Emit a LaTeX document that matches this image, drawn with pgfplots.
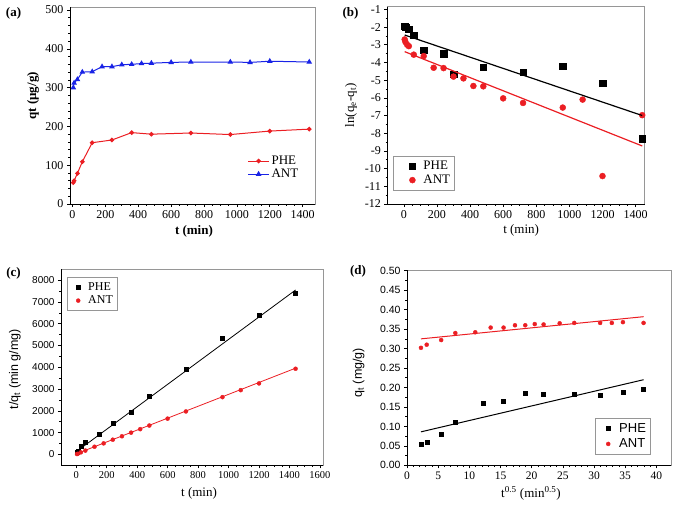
\documentclass[border=0pt]{standalone}
\usepackage{fontspec}
\setmainfont{Liberation Serif}
\setsansfont{Liberation Sans}
\usepackage{pgfplots}
\pgfplotsset{compat=1.18}
\definecolor{myred}{RGB}{235,30,35}
\definecolor{myblue}{RGB}{25,35,230}
\definecolor{frame}{RGB}{150,150,150}
\newcommand{\fs}[1]{\fontsize{#1}{#1}\selectfont}
\pgfplotsset{
  panel/.style={
    scale only axis,
    axis line style={frame, line width=0.7pt},
    tick style={black, line width=0.6pt},
    major tick length=3pt,
    minor tick length=1.8pt,
    tick align=outside,
    xtick pos=left, ytick pos=left,
    /pgf/number format/assume math mode=true,
    /pgf/number format/1000 sep={},
    legend cell align=left,
    clip mode=individual,
  },
}
\begin{document}
\begin{tikzpicture}
\path[use as bounding box] (0pt,0pt) rectangle (676pt,-512pt);

% ---------------- (a)
\begin{axis}[panel, name=pa,
  at={(70pt,-7.3pt)}, anchor=north west,
  width=245pt, height=196.7pt,
  xmin=-15, xmax=1475, ymin=0, ymax=507,
  xtick={0,200,...,1400}, minor x tick num=3,
  ytick={0,100,...,500}, minor y tick num=4,
  tick label style={font=\fs{12}},
  xlabel={\bfseries t (min)}, ylabel={\bfseries qt (μg/g)},
  xlabel style={font=\fs{13}, at={(axis description cs:0.506,-0.137)}, anchor=center},
  ylabel style={font=\fs{13}, at={(axis description cs:-0.151,0.55)}, anchor=center},
  legend style={draw=none, fill=none, font=\fs{13}, at={(0.72,0.26)}, anchor=north west, inner sep=1pt, row sep=-1pt},
  legend image code/.code={\draw[mark repeat=2,mark phase=2] plot coordinates {(0pt,0pt) (10.5pt,0pt) (21pt,0pt)};},
]
\addplot[myred, line width=1pt, mark=*, mark size=1.8pt] coordinates {
(5,55)(10,60)(30,79)(60,109)(120,158)(240,165)(360,184)(480,180)(720,183)(960,179)(1200,188)(1440,193)};
\addlegendentry{PHE}
\addplot[myblue, line width=1pt, mark=triangle*, mark size=2.3pt] coordinates {
(5,300)(10,312)(30,321)(60,340)(120,341)(180,354)(240,354)(300,359)(360,360)(420,362)(480,363)(600,365)(720,366)(960,366)(1080,365)(1200,368)(1440,366)};
\addlegendentry{ANT}
\end{axis}
\draw[black, line width=0.7pt] (pa.north west) -- (pa.south west) -- (pa.south east);

% ---------------- (b)
\begin{axis}[panel, name=pb,
  at={(387.3pt,-6.7pt)}, anchor=north west,
  width=257.4pt, height=197.3pt,
  xmin=-100, xmax=1455, ymin=-12, ymax=-0.85,
  xtick={0,200,...,1400}, minor x tick num=3,
  ytick={-12,-11,...,-1}, minor y tick num=1,
  tick label style={font=\fs{12}},
  xlabel={t (min)}, ylabel={ln(q\textsubscript{e}-q\textsubscript{t})},
  xlabel style={font=\fs{13}, at={(axis description cs:0.52,-0.132)}, anchor=center},
  ylabel style={font=\fs{13}, at={(axis description cs:-0.141,0.5)}, anchor=center},
  legend style={draw=frame, fill=white, font=\fs{13}, at={(0.023,0.244)}, anchor=north west, inner xsep=2pt, inner ysep=3pt, row sep=0pt},
  legend image code/.code={\path[draw=none,fill=none] (0pt,-3pt) (26pt,3pt); \draw plot coordinates {(17pt,0pt)};},
]
\addplot[only marks, black, mark=square*, mark size=3.2pt] coordinates {
(5,-1.95)(10,-2.0)(30,-2.13)(60,-2.45)(120,-3.3)(240,-3.5)(300,-4.65)(480,-4.28)(720,-4.55)(960,-4.2)(1200,-5.18)(1440,-8.3)};
\addlegendentry{PHE}
\addplot[only marks, myred, mark=*, mark size=3pt] coordinates {
(5,-2.7)(10,-2.85)(20,-3.0)(30,-3.08)(60,-3.56)(120,-3.64)(180,-4.3)(240,-4.32)(300,-4.8)(360,-4.9)(420,-5.33)(480,-5.35)(600,-6.03)(720,-6.29)(960,-6.55)(1080,-6.1)(1200,-10.42)(1440,-6.98)};
\addlegendentry{ANT}
\addplot[black, line width=1.2pt, forget plot] coordinates {(5,-2.45)(1440,-7.0)};
\addplot[myred, line width=1.2pt, forget plot] coordinates {(5,-3.39)(1440,-8.72)};
\end{axis}
\draw[black, line width=0.7pt] (pb.north west) -- (pb.south west) -- (pb.south east);

% ---------------- (c)
\begin{axis}[panel, name=pc,
  at={(61pt,-269.3pt)}, anchor=north west,
  width=262pt, height=196pt,
  xmin=-100, xmax=1620, ymin=-500, ymax=8500,
  xtick={0,200,...,1600}, minor x tick num=3,
  ytick={0,1000,...,8000}, minor y tick num=1,
  xticklabel style={font=\fs{10.5}},
  yticklabel style={font=\sffamily\fs{10}},
  xlabel={t (min)}, ylabel={t/q\textsubscript{t} (min g/mg)},
  xlabel style={font=\fs{13}, at={(axis description cs:0.527,-0.141)}, anchor=center},
  ylabel style={font=\sffamily\fs{12.5}, at={(axis description cs:-0.176,0.49)}, anchor=center},
  legend style={draw=frame, fill=white, font=\fs{12}, at={(0.023,0.959)}, anchor=north west, inner xsep=2pt, inner ysep=3pt, row sep=0pt},
  legend image code/.code={\path[draw=none,fill=none] (0pt,-3pt) (17pt,3pt); \draw plot coordinates {(9pt,0pt)};},
]
\addplot[only marks, black, mark=square*, mark size=2pt] coordinates {
(5,91)(10,167)(30,375)(60,545)(150,937)(240,1455)(360,1946)(480,2667)(720,3934)(960,5333)(1200,6383)(1440,7420)};
\addlegendentry{PHE}
\addplot[only marks, myred, mark=*, mark size=2pt] coordinates {
(5,17)(10,32)(30,94)(60,176)(120,353)(180,507)(240,676)(300,833)(360,1000)(420,1160)(480,1326)(600,1644)(720,1973)(960,2630)(1080,2951)(1200,3261)(1440,3934)};
\addlegendentry{ANT}
\addplot[black, line width=0.8pt, forget plot] coordinates {(5,150)(1440,7550)};
\addplot[myred, line width=0.8pt, forget plot] coordinates {(5,40)(1440,3960)};
\end{axis}
\draw[black, line width=0.7pt] (pc.north west) -- (pc.south west) -- (pc.south east);

% ---------------- (d)
\begin{axis}[panel, name=pd,
  at={(407pt,-270pt)}, anchor=north west,
  width=264.3pt, height=195.3pt,
  xmin=0, xmax=42.4, ymin=0, ymax=0.502,
  xtick={0,5,...,40}, minor x tick num=4,
  ytick={0,0.05,0.1,0.15,0.2,0.25,0.3,0.35,0.4,0.45,0.5}, minor y tick num=1,
  yticklabel style={font=\sffamily\fs{10.5}, /pgf/number format/.cd, fixed, fixed zerofill, precision=2},
  xticklabel style={font=\fs{11.5}},
  xlabel={t\textsuperscript{0.5} (min\textsuperscript{0.5})}, ylabel={q\textsubscript{t} (mg/g)},
  xlabel style={font=\fs{13}, at={(axis description cs:0.469,-0.143)}, anchor=center},
  ylabel style={font=\sffamily\fs{12.5}, at={(axis description cs:-0.183,0.474)}, anchor=center},
  legend style={draw=frame, fill=white, font=\sffamily\fs{13}, at={(0.92,0.056)}, anchor=south east, inner xsep=2pt, inner ysep=3pt, row sep=1pt},
  legend image code/.code={\path[draw=none,fill=none] (0pt,-3pt) (20pt,3pt); \draw plot coordinates {(11pt,0pt)};},
]
\addplot[only marks, black, mark=square*, mark size=2pt] coordinates {
(2.24,0.055)(3.16,0.06)(5.48,0.08)(7.75,0.112)(12.25,0.16)(15.49,0.165)(18.97,0.186)(21.91,0.182)(26.83,0.184)(30.98,0.181)(34.64,0.189)(37.95,0.195)};
\addlegendentry{PHE}
\addplot[only marks, myred, mark=*, mark size=2pt] coordinates {
(2.24,0.302)(3.16,0.310)(5.48,0.322)(7.75,0.340)(10.95,0.342)(13.42,0.354)(15.49,0.354)(17.32,0.360)(18.97,0.360)(20.49,0.363)(21.91,0.362)(24.49,0.365)(26.83,0.366)(30.98,0.366)(32.86,0.366)(34.64,0.368)(37.95,0.366)};
\addlegendentry{ANT}
\addplot[black, line width=1pt, forget plot] coordinates {(2.24,0.086)(37.95,0.220)};
\addplot[myred, line width=1pt, forget plot] coordinates {(2.24,0.325)(37.95,0.382)};
\end{axis}
\draw[black, line width=0.7pt] (pd.north west) -- (pd.south west) -- (pd.south east);

% panel labels
\node[font=\bfseries\fs{13}] at (13.5pt,-13pt) {(a)};
\node[font=\bfseries\fs{13}] at (350.5pt,-13pt) {(b)};
\node[font=\bfseries\fs{13}] at (13.5pt,-273pt) {(c)};
\node[font=\bfseries\fs{13}] at (358pt,-271.5pt) {(d)};
\end{tikzpicture}
\end{document}
